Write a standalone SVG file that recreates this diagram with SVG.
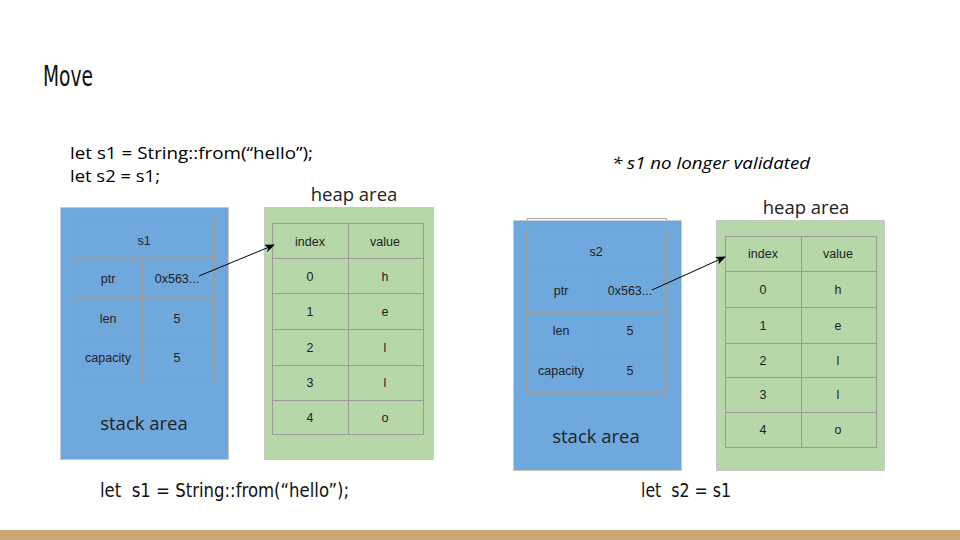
<svg xmlns="http://www.w3.org/2000/svg" width="960" height="540" viewBox="0 0 960 540">
<defs>
<marker id="ah" markerWidth="10" markerHeight="8" refX="9" refY="4" orient="auto" markerUnits="userSpaceOnUse">
<path d="M0,0 L10,4 L0,8 L2.5,4 Z" fill="#000"/>
</marker>
<style>
.stack{fill:#6fa8dc;stroke:#c8c8c8;stroke-width:1}
.heap{fill:#b6d7a8;stroke:#c8c8c8;stroke-width:1}
.cell{fill:none;stroke:#9a9a9a;stroke-width:1}
.t{font-family:"Liberation Sans",Arial,sans-serif;font-size:12.5px;fill:#222;text-anchor:middle}
.area{font-family:"Open Sans","Noto Sans",sans-serif;font-size:18.5px;fill:#222;text-anchor:middle}
.code{font-family:"Open Sans","Noto Sans",sans-serif;font-size:16.5px;fill:#000}
.conn{stroke:#000;stroke-width:1;fill:none}
</style>
</defs>
<rect width="960" height="540" fill="#fff"/>
<text x="43" y="86" font-family="'DejaVu Sans Condensed','Liberation Sans Narrow',sans-serif" font-size="28" textLength="50" lengthAdjust="spacingAndGlyphs" fill="#111">Move</text>
<text class="code" x="70" y="159" textLength="243" lengthAdjust="spacingAndGlyphs">let s1 = String::from(“hello”);</text>
<text class="code" x="70" y="182" textLength="90" lengthAdjust="spacingAndGlyphs">let s2 = s1;</text>
<text x="612" y="169" font-family="'Open Sans','Noto Sans',sans-serif" font-size="17" font-style="italic" fill="#000" textLength="198" lengthAdjust="spacingAndGlyphs">* s1 no longer validated</text>

<g id="stack1">
<rect class="stack" x="60.5" y="207.5" width="168" height="252"/>
<rect class="cell" x="73.5" y="217.5" width="141" height="41"/>
<rect class="cell" x="73.5" y="258.5" width="69" height="40"/>
<rect class="cell" x="142.5" y="258.5" width="72" height="40"/>
<rect class="cell" x="73.5" y="298.5" width="69" height="41"/>
<rect class="cell" x="142.5" y="298.5" width="72" height="41"/>
<rect class="cell" x="73.5" y="339.5" width="69" height="42"/>
<rect class="cell" x="142.5" y="339.5" width="72" height="42"/>
<text class="t" x="144" y="245">s1</text>
<text class="t" x="108" y="283">ptr</text>
<text class="t" x="177" y="283">0x563...</text>
<text class="t" x="108" y="323">len</text>
<text class="t" x="177" y="323">5</text>
<text class="t" x="108" y="362">capacity</text>
<text class="t" x="177" y="362">5</text>
<text class="area" x="144" y="430">stack area</text>
</g>

<g id="heap1">
<text class="area" x="354" y="201">heap area</text>
<rect class="heap" x="264.5" y="207.5" width="169" height="252"/>
<rect class="cell" x="272.5" y="223.5" width="76" height="35"/>
<rect class="cell" x="348.5" y="223.5" width="75" height="35"/>
<rect class="cell" x="272.5" y="258.5" width="76" height="35"/>
<rect class="cell" x="348.5" y="258.5" width="75" height="35"/>
<rect class="cell" x="272.5" y="293.5" width="76" height="36"/>
<rect class="cell" x="348.5" y="293.5" width="75" height="36"/>
<rect class="cell" x="272.5" y="329.5" width="76" height="36"/>
<rect class="cell" x="348.5" y="329.5" width="75" height="36"/>
<rect class="cell" x="272.5" y="365.5" width="76" height="35"/>
<rect class="cell" x="348.5" y="365.5" width="75" height="35"/>
<rect class="cell" x="272.5" y="400.5" width="76" height="34"/>
<rect class="cell" x="348.5" y="400.5" width="75" height="34"/>
<text class="t" x="310" y="246">index</text>
<text class="t" x="385" y="246">value</text>
<text class="t" x="310" y="281">0</text>
<text class="t" x="385" y="281">h</text>
<text class="t" x="310" y="316">1</text>
<text class="t" x="385" y="316">e</text>
<text class="t" x="310" y="352">2</text>
<text class="t" x="385" y="352">l</text>
<text class="t" x="310" y="387">3</text>
<text class="t" x="385" y="387">l</text>
<text class="t" x="310" y="422">4</text>
<text class="t" x="385" y="422">o</text>
</g>

<g id="stack2">
<rect x="527.5" y="218.5" width="139" height="12" fill="#fff" stroke="#aaa"/>
<rect class="stack" x="513.5" y="220.5" width="168" height="250"/>
<rect class="cell" x="526.5" y="231.5" width="140" height="40"/>
<rect class="cell" x="526.5" y="271.5" width="69" height="41"/>
<rect class="cell" x="595.5" y="271.5" width="71" height="41"/>
<rect class="cell" x="526.5" y="312.5" width="69" height="41"/>
<rect class="cell" x="595.5" y="312.5" width="71" height="41"/>
<rect class="cell" x="526.5" y="353.5" width="69" height="39"/>
<rect class="cell" x="595.5" y="353.5" width="71" height="39"/>
<text class="t" x="596" y="256">s2</text>
<text class="t" x="561" y="295">ptr</text>
<text class="t" x="630" y="295">0x563...</text>
<text class="t" x="561" y="335">len</text>
<text class="t" x="630" y="335">5</text>
<text class="t" x="561" y="375">capacity</text>
<text class="t" x="630" y="375">5</text>
<text class="area" x="596" y="443">stack area</text>
</g>

<g id="heap2">
<text class="area" x="806" y="214">heap area</text>
<rect class="heap" x="716.5" y="220.5" width="168" height="250"/>
<rect class="cell" x="725.5" y="236.5" width="76" height="35"/>
<rect class="cell" x="801.5" y="236.5" width="75" height="35"/>
<rect class="cell" x="725.5" y="271.5" width="76" height="36"/>
<rect class="cell" x="801.5" y="271.5" width="75" height="36"/>
<rect class="cell" x="725.5" y="307.5" width="76" height="36"/>
<rect class="cell" x="801.5" y="307.5" width="75" height="36"/>
<rect class="cell" x="725.5" y="343.5" width="76" height="34"/>
<rect class="cell" x="801.5" y="343.5" width="75" height="34"/>
<rect class="cell" x="725.5" y="377.5" width="76" height="35"/>
<rect class="cell" x="801.5" y="377.5" width="75" height="35"/>
<rect class="cell" x="725.5" y="412.5" width="76" height="35"/>
<rect class="cell" x="801.5" y="412.5" width="75" height="35"/>
<text class="t" x="763" y="258">index</text>
<text class="t" x="838" y="258">value</text>
<text class="t" x="763" y="294">0</text>
<text class="t" x="838" y="294">h</text>
<text class="t" x="763" y="330">1</text>
<text class="t" x="838" y="330">e</text>
<text class="t" x="763" y="365">2</text>
<text class="t" x="838" y="365">l</text>
<text class="t" x="763" y="399">3</text>
<text class="t" x="838" y="399">l</text>
<text class="t" x="763" y="434">4</text>
<text class="t" x="838" y="434">o</text>
</g>

<g id="connectors">
<line class="conn" x1="199" y1="276" x2="274" y2="245" marker-end="url(#ah)"/>
<line class="conn" x1="652" y1="290" x2="725" y2="257" marker-end="url(#ah)"/>
</g>

<text x="100" y="497" font-family="'DejaVu Sans Condensed','Liberation Sans Narrow',sans-serif" font-size="19" textLength="249" lengthAdjust="spacingAndGlyphs" fill="#111" xml:space="preserve">let  s1 = String::from(“hello”);</text>
<text x="641" y="497" font-family="'DejaVu Sans Condensed','Liberation Sans Narrow',sans-serif" font-size="19" textLength="90" lengthAdjust="spacingAndGlyphs" fill="#111" xml:space="preserve">let  s2 = s1</text>
<rect x="0" y="530" width="960" height="10" fill="#cca677"/>
</svg>
